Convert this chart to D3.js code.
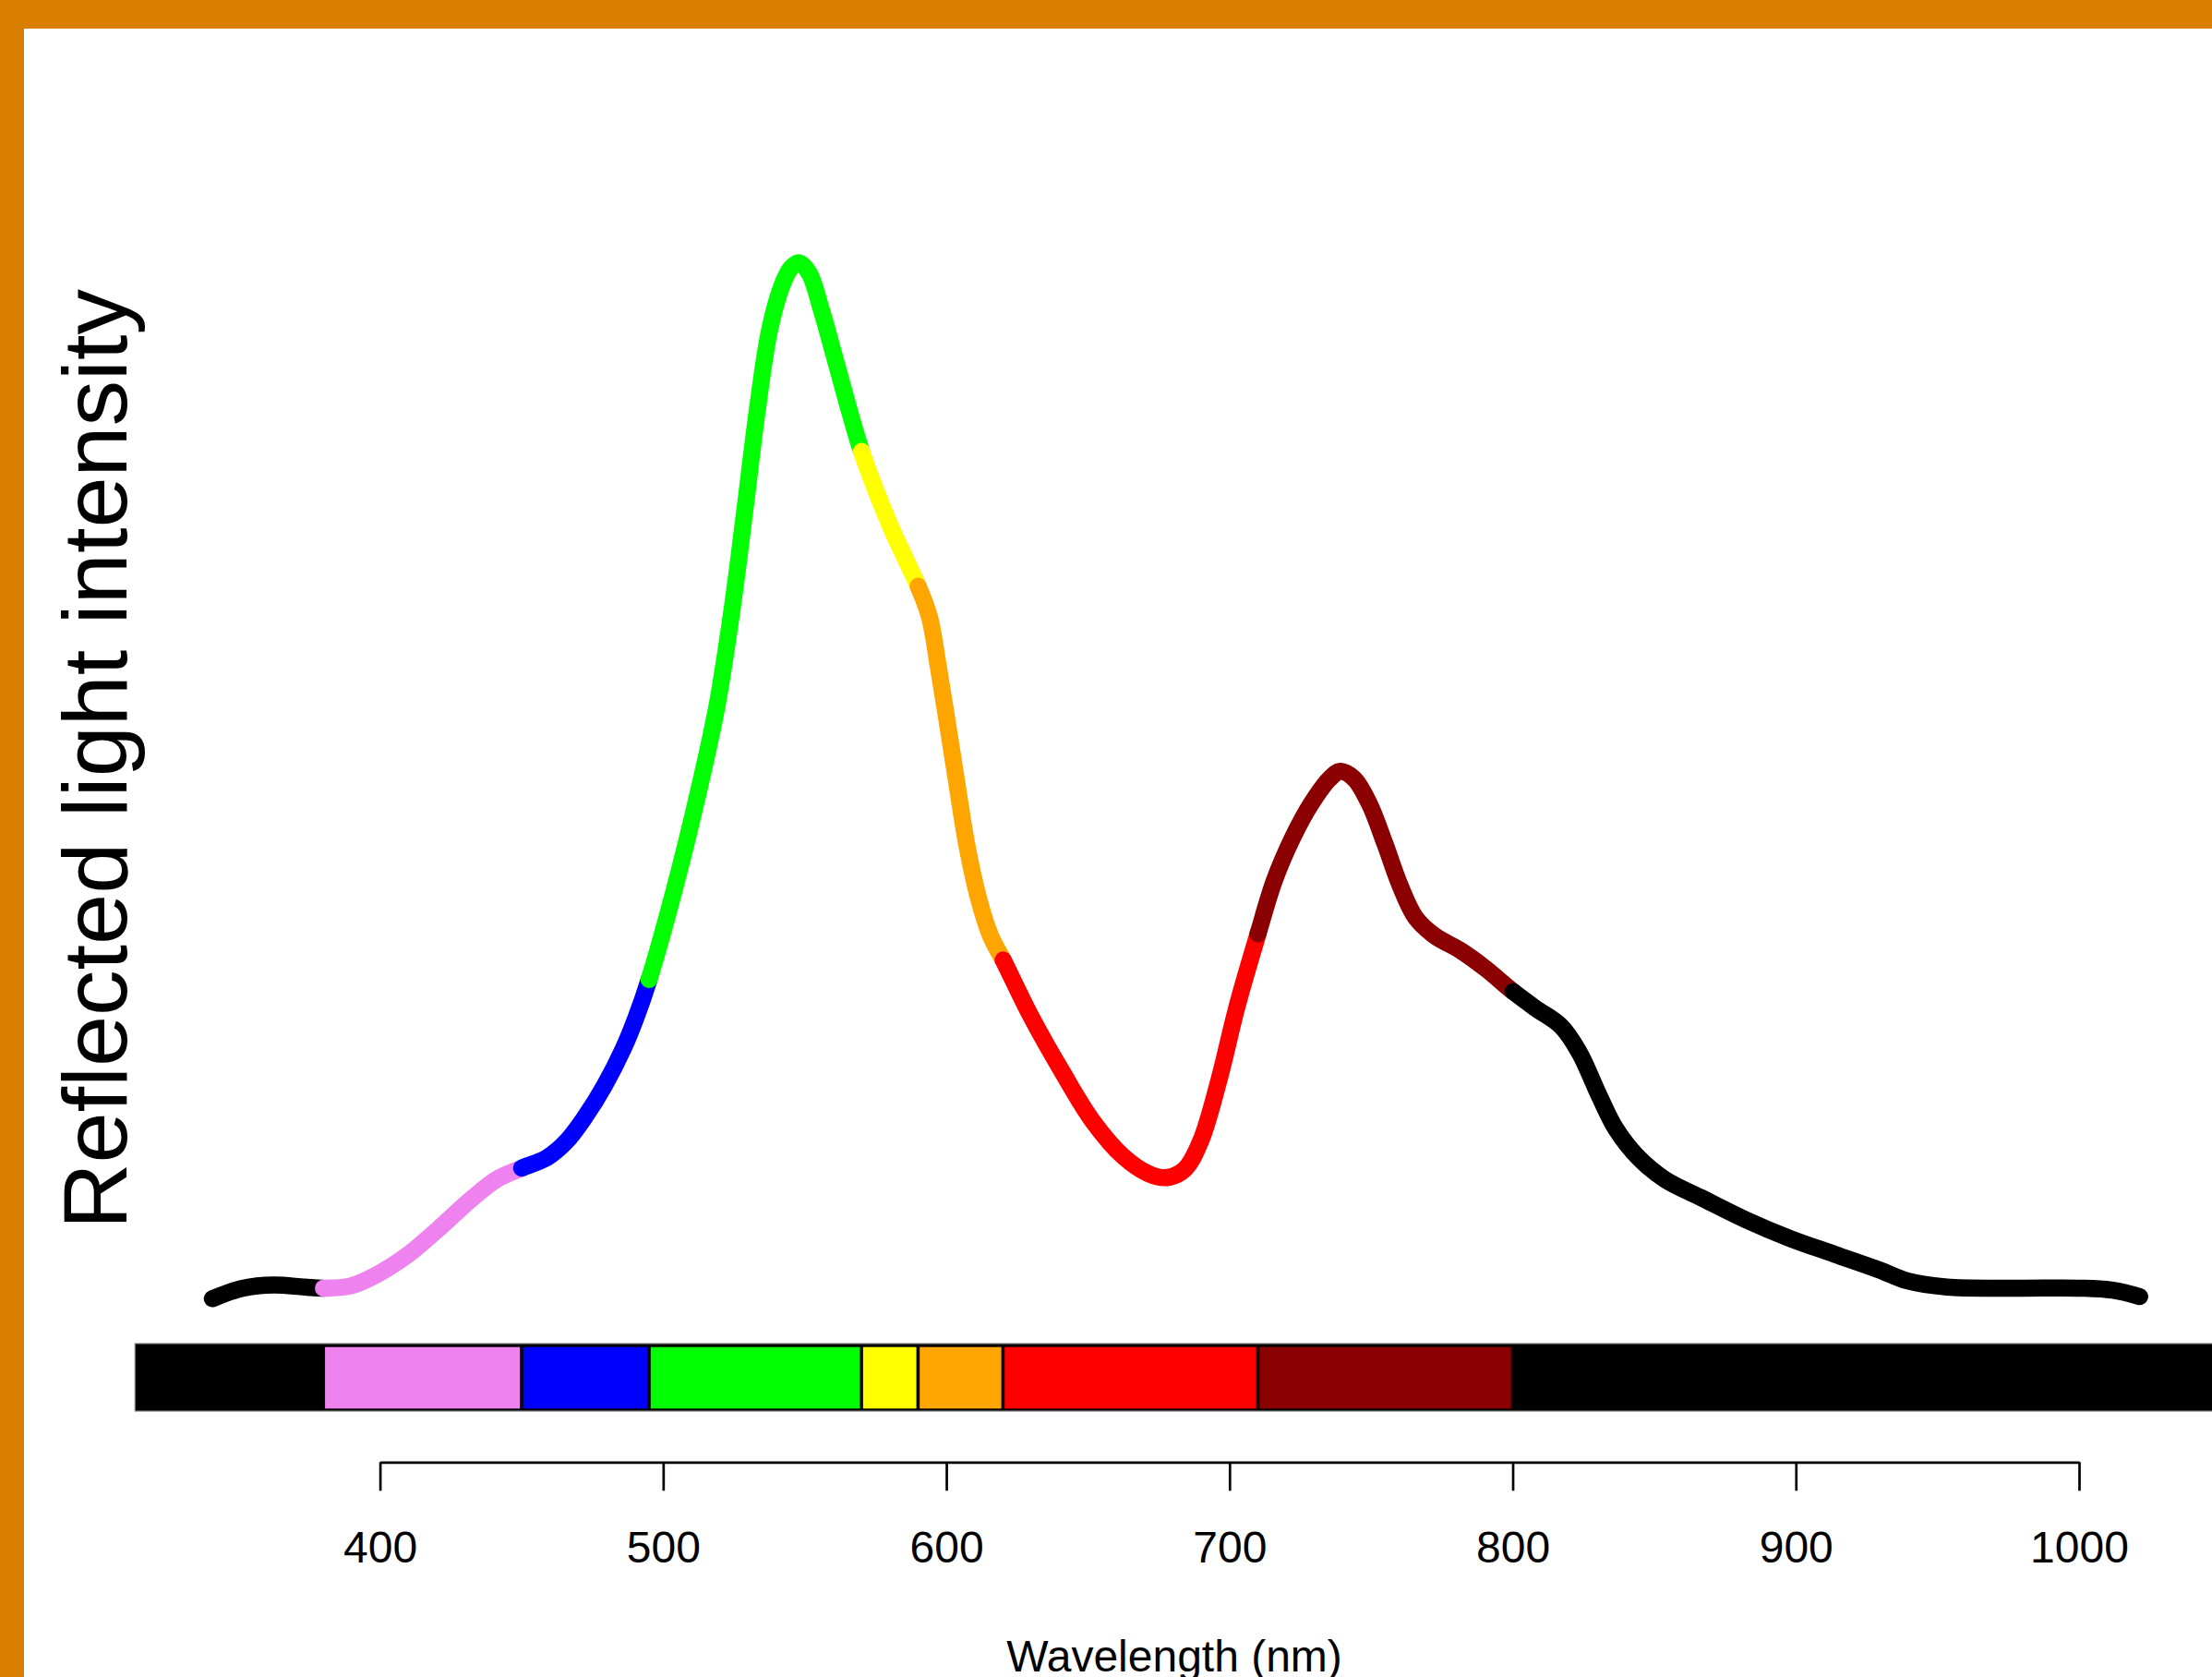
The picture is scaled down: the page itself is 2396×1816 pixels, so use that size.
<!DOCTYPE html>
<html>
<head>
<meta charset="utf-8">
<script src="https://cdn.jsdelivr.net/npm/d3@7/dist/d3.min.js"></script>
<style>
  body { margin: 0; background: #fff; }
  svg text { font-family: "Liberation Sans", Arial, Helvetica, sans-serif; }
</style>
</head>
<body>
<svg id="spectrum"></svg>
<script>
const size = {w: 2396, h: 1816};

// reflected light curve (nm, arbitrary units)
const wavelength = [340.8, 351.6, 362.5, 373.4, 380, 389.5, 399, 410, 420.5, 432, 441,
    450, 459, 465.7, 472.5, 479.2, 486, 490.4,
    495, 503.8, 512.5, 519, 524.5, 528.8, 533.2, 537.5, 541.9, 545.1, 548.1, 551.6, 556, 561.4, 565.8,
    570, 575.5, 581, 586.4,
    590, 594, 597.3, 600.6, 603.8, 607.1, 611.4, 615.7,
    620, 629.9, 640.8, 651.6, 662.5, 671.2, 677.7, 684.2, 689.7, 696.2, 702.7,
    710, 715.8, 722.3, 728.8, 735.4, 739.1, 744, 749.4, 754.9, 760.3, 765.7, 772.3, 782, 790.7,
    800, 808, 817, 823.5, 830.5, 836.5, 844.4, 853.9, 866.5, 882.3, 898.1, 913.9, 929.7, 939.2,
    953.4, 977.1, 1000.8, 1011.9, 1021.4];
const intensity = [1.2, 2.2, 2.5, 2.3, 2.2, 2.4, 3.5, 5.4, 7.8, 10.6, 12.5,
    13.6, 14.6, 16.1, 18.5, 21.4, 25.0, 27.9,
    31.5, 39.9, 49.4, 57.5, 67.0, 76.0, 85.5, 93.1, 97.4, 99.1, 99.6, 98.6, 95.0, 89.8, 85.5,
    81.7, 77.7, 74.1, 71.0,
    68.9, 66.0, 61.0, 55.5, 50.0, 44.5, 39.2, 35.6,
    33.4, 28.0, 22.8, 18.1, 14.7, 13.1, 12.7, 13.5, 16.1, 21.9, 29.0,
    35.8, 40.9, 45.0, 48.2, 50.6, 51.3, 50.6, 48.2, 44.4, 40.4, 37.4, 35.7, 34.2, 32.5,
    30.4, 28.8, 27.1, 24.6, 20.5, 17.3, 14.6, 12.5, 10.8, 8.7, 6.9, 5.4, 3.9, 2.9,
    2.3, 2.2, 2.2, 2.0, 1.4];

// colour bands of the spectrum bar
const bandStart = [313.5, 380, 450, 495, 570, 590, 620, 710, 800];
const bandEnd = [380, 450, 495, 570, 590, 620, 710, 800, 1100];
const bandColor = ['black', 'violet', 'blue', '#00ff00', 'yellow', 'orange', 'red', 'darkred', 'black'];

const tickValues = [400, 500, 600, 700, 800, 900, 1000];

const svg = d3.select('svg#spectrum')
    .attr('width', size.w)
    .attr('height', size.h);

svg.append('rect')
    .attr('width', size.w).attr('height', size.h)
    .attr('fill', '#fff');

// orange frame along top and left
svg.append('rect')
    .attr('x', 0).attr('y', 0)
    .attr('width', size.w).attr('height', 31)
    .attr('fill', '#d97e00');
svg.append('rect')
    .attr('x', 0).attr('y', 0)
    .attr('width', 26).attr('height', size.h)
    .attr('fill', '#d97e00');

const xScale = d3.scaleLinear()
    .domain([400, 1000])
    .range([411.6, 2252]);

const yScale = d3.scaleLinear()
    .domain([0, 100])
    .range([1420, 280]);

const points = wavelength.map((w, i) => ({w: w, v: intensity[i]}));

const line = d3.line()
    .x(d => xScale(d.w))
    .y(d => yScale(d.v))
    .curve(d3.curveCatmullRom.alpha(0.5));

const lineWidth = 18.5;
const curvePath = line(points);

// one smooth path, coloured band by band with a dash window along its length
const curveG = svg.append('g').classed('curve', true);
const probe = curveG.append('path').attr('d', curvePath).attr('fill', 'none');
const total = probe.node().getTotalLength();

// path length at which the curve reaches screen x
function lengthAtX(x) {
    let lo = 0, hi = total;
    for (let k = 0; k < 40; k++) {
        let mid = (lo + hi) / 2;
        if (probe.node().getPointAtLength(mid).x < x) lo = mid; else hi = mid;
    }
    return (lo + hi) / 2;
}
probe.remove();

bandColor.forEach((c, i) => {
    let a = i === 0 ? 0 : lengthAtX(xScale(bandStart[i]));
    let b = i === bandColor.length - 1 ? total : lengthAtX(xScale(bandEnd[i]));
    if (b <= a) return;
    curveG.append('path')
        .attr('d', curvePath)
        .attr('fill', 'none')
        .attr('stroke', c)
        .attr('stroke-width', lineWidth)
        .attr('stroke-linecap', 'round')
        .attr('stroke-linejoin', 'round')
        .attr('stroke-dasharray', `${b - a} ${total + 100}`)
        .attr('stroke-dashoffset', -a);
});

// spectrum bar
const barTop = 1455, barBottom = 1528;
const barG = svg.append('g').classed('bar', true);
barG.append('rect')
    .attr('x', xScale(bandStart[0]))
    .attr('y', barTop)
    .attr('width', size.w - xScale(bandStart[0]) + 10)
    .attr('height', barBottom - barTop)
    .attr('fill', 'black')
    .attr('stroke', '#777')
    .attr('stroke-width', 1.2);

barG.selectAll('rect.band')
    .data(bandColor.map((c, i) => ({c: c, a: bandStart[i], b: bandEnd[i]})).slice(1, -1))
    .join('rect')
    .classed('band', true)
    .attr('x', d => xScale(d.a) + 1.8)
    .attr('y', barTop + 3.7)
    .attr('width', d => xScale(d.b) - xScale(d.a) - 3.6)
    .attr('height', barBottom - barTop - 6.4)
    .attr('fill', d => d.c);

// x axis
const axisG = svg.append('g')
    .classed('axis-x', true)
    .attr('transform', 'translate(0, 1583.3)')
    .call(d3.axisBottom(xScale)
        .tickValues(tickValues)
        .tickSizeInner(31)
        .tickSizeOuter(0)
        .tickPadding(44)
        .tickFormat(d3.format('d')));

axisG.select('.domain').attr('stroke', '#000').attr('stroke-width', 2.7);
axisG.selectAll('.tick line').attr('stroke', '#000').attr('stroke-width', 2.7);
axisG.selectAll('.tick text')
    .attr('fill', '#000')
    .attr('font-size', 48)
    .attr('font-family', '"Liberation Sans", Arial, sans-serif');

svg.append('text')
    .attr('x', 1272)
    .attr('y', 1810)
    .attr('text-anchor', 'middle')
    .attr('font-size', 48)
    .text('Wavelength (nm)');

svg.append('text')
    .attr('transform', 'translate(137, 822) rotate(-90)')
    .attr('text-anchor', 'middle')
    .attr('font-size', 99)
    .text('Reflected light intensity');
</script>
</body>
</html>
